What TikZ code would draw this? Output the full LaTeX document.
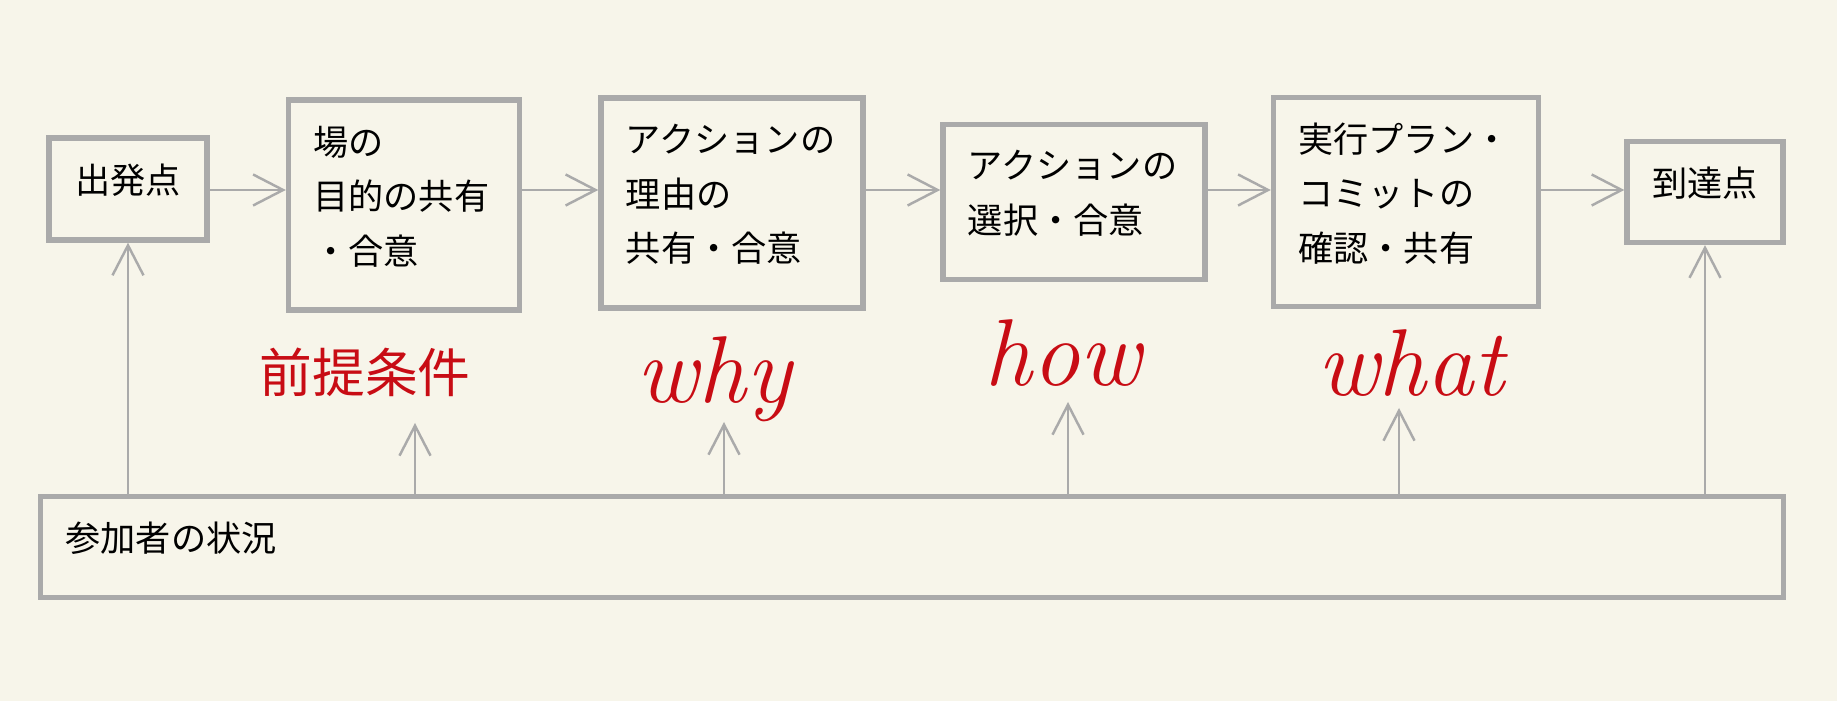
\documentclass[tikz,border=0pt]{standalone}
\usepackage{fontspec}
\newfontfamily\jp{Noto Sans CJK JP}
\usetikzlibrary{arrows.meta}
\definecolor{paper}{RGB}{247,245,234}
\definecolor{frame}{RGB}{170,170,170}
\definecolor{pen}{RGB}{200,12,20}

\begin{document}
\begin{tikzpicture}[x=0.01cm,y=-0.01cm,
  box/.style={draw=frame,line width=1.5pt,inner xsep=0.25cm,inner ysep=0pt,
    align=left,font=\jp\fontsize{10}{15.5}\selectfont,
    execute at end node={\rule[-0.2cm]{0pt}{0.2cm}}},
  flow/.style={draw=frame,line width=0.7pt,-{Straight Barb[length=0.3cm,width=0.31cm]}},
  hand/.style={text=pen,anchor=base,font=\itshape\fontsize{27}{27}\selectfont}]
\useasboundingbox (0,0) rectangle (1837,701);
\fill[paper] (0,0) rectangle (1837,701);
\node[box,minimum width=1.58cm,minimum height=1.02cm] (start) at (128,189) {出発点};
\node[box,text width=1.81cm,minimum height=2.1cm] (place) at (404,205) {場の\\目的の共有\\・合意};
\node[box,text width=2.12cm,minimum height=2.1cm] (reason) at (732,203) {アクションの\\理由の\\共有・合意};
\node[box,text width=2.12cm,minimum height=1.55cm] (choice) at (1074,202) {アクションの\\選択・合意};
\node[box,text width=2.15cm,minimum height=2.09cm] (plan) at (1406,202) {実行プラン・\\コミットの\\確認・共有};
\node[box,minimum width=1.56cm,minimum height=1.01cm] (goal) at (1705,192) {到達点};
\node[box,text width=16.92cm,minimum height=1.01cm] (status) at (912,547) {参加者の状況};
\coordinate (axis) at (0,190);
\draw[flow] (start.east |- axis) -- (place.west |- axis);
\draw[flow] (place.east |- axis) -- (reason.west |- axis);
\draw[flow] (reason.east |- axis) -- (choice.west |- axis);
\draw[flow] (choice.east |- axis) -- (plan.west |- axis);
\draw[flow] (plan.east |- axis) -- (goal.west |- axis);
\node[text=pen,font=\jp\fontsize{15}{15}\selectfont] (premise) at (365,372) {前提条件};
\node[hand] (why) at (714,403) {why};
\node[hand] (how) at (1063,386) {how};
\node[hand] (what) at (1411,396) {what};
\coordinate (up1) at (415,423);
\coordinate (up2) at (724,422);
\coordinate (up3) at (1068,402);
\coordinate (up4) at (1399,408);
\draw[flow] (status.north -| start) -- (start.south);
\draw[flow] (status.north -| up1) -- (up1);
\draw[flow] (status.north -| up2) -- (up2);
\draw[flow] (status.north -| up3) -- (up3);
\draw[flow] (status.north -| up4) -- (up4);
\draw[flow] (status.north -| goal) -- (goal.south);
\end{tikzpicture}
\end{document}
